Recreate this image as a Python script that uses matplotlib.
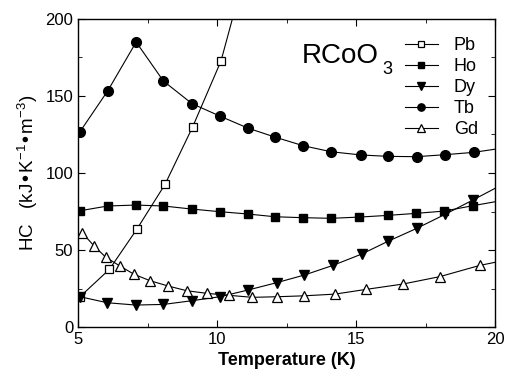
import matplotlib
matplotlib.use("Agg")
import matplotlib.pyplot as plt
from matplotlib.ticker import MultipleLocator

plt.rcParams['font.family'] = ['Liberation Sans', 'DejaVu Sans']
plt.rcParams['mathtext.default'] = 'regular'

# data
t_pb = [5.07, 6.13, 7.11, 8.13, 9.12, 10.14, 11.15]
hc_pb = [19.7, 37.5, 63.4, 92.7, 129.9, 172.7, 240]

t_ho = [5.07, 6.07, 7.07, 8.07, 9.09, 10.1, 11.1, 12.09, 13.1, 14.1, 15.12, 16.14, 17.15, 18.17, 19.2, 20.2]
hc_ho = [75.5, 78.6, 79.2, 78.6, 76.6, 74.9, 73.4, 71.6, 71.0, 70.6, 71.4, 72.5, 73.8, 75.3, 78.8, 82]

t_dy = [5.07, 6.05, 7.07, 8.07, 9.09, 10.1, 11.1, 12.14, 13.14, 14.16, 15.2, 16.16, 17.17, 18.2, 19.2, 20.2]
hc_dy = [19.7, 15.8, 14.3, 14.7, 17.1, 19.7, 24.0, 28.8, 33.8, 40.0, 47.4, 55.8, 64.0, 73.2, 82.5, 92]

t_tb = [5.07, 6.07, 7.09, 8.07, 9.1, 10.12, 11.1, 12.1, 13.1, 14.1, 15.18, 16.16, 17.17, 18.2, 19.22, 20.2]
hc_tb = [126.8, 153.4, 185.0, 159.7, 145.0, 136.8, 129.2, 123.2, 117.7, 113.8, 111.7, 110.8, 110.6, 111.9, 113.4, 116]

t_gd = [5.15, 5.58, 6.0, 6.51, 7.02, 7.59, 8.25, 8.91, 9.63, 10.44, 11.27, 12.17, 13.14, 14.24, 15.37, 16.67, 18.0, 19.44, 20.8]
hc_gd = [61.2, 52.6, 45.3, 39.6, 34.2, 30.1, 26.6, 23.6, 21.9, 20.6, 19.3, 19.7, 20.3, 21.4, 24.5, 27.9, 32.7, 40.0, 45]

fig = plt.figure(figsize=(5.1, 3.79), dpi=100)
ax = fig.add_axes([0.153, 0.137, 0.818, 0.813])

lw = 0.8
ax.plot(t_pb, hc_pb, '-s', color='black', mfc='white', mec='black', ms=5.5, lw=lw, mew=0.9, label='Pb')
ax.plot(t_ho, hc_ho, '-s', color='black', ms=5.5, lw=lw, label='Ho')
ax.plot(t_dy, hc_dy, '-v', color='black', ms=7, lw=lw, label='Dy')
ax.plot(t_tb, hc_tb, '-o', color='black', ms=7, lw=lw, label='Tb')
ax.plot(t_gd, hc_gd, '-^', color='black', mfc='white', mec='black', ms=7, lw=lw, mew=0.9, label='Gd')

ax.set_xlim(5, 20)
ax.set_ylim(0, 200)
ax.xaxis.set_major_locator(MultipleLocator(5))
ax.xaxis.set_minor_locator(MultipleLocator(2.5))
ax.yaxis.set_major_locator(MultipleLocator(50))
ax.yaxis.set_minor_locator(MultipleLocator(25))
ax.tick_params(which='both', direction='in', top=True, right=True, labelsize=12)
ax.tick_params(which='major', length=5)
ax.tick_params(which='minor', length=3)
for s in ax.spines.values():
    s.set_linewidth(1.0)

ax.set_xlabel('Temperature (K)', fontsize=13, fontweight='bold')
ax.set_ylabel('HC   (kJ•K$^{-1}$•m$^{-3}$)', fontsize=13.5)

ax.text(13.06, 171.4, 'RCoO', fontsize=20, ha='left', va='baseline')
ax.text(15.94, 164.3, '3', fontsize=13, ha='left', va='baseline')

ax.legend(loc='upper left', bbox_to_anchor=(0.784, 0.94), frameon=False, fontsize=13,
          handlelength=1.8, handletextpad=0.9, labelspacing=0.22, borderpad=0,
          borderaxespad=0, markerscale=0.75)

fig.savefig('out.png', dpi=100)
